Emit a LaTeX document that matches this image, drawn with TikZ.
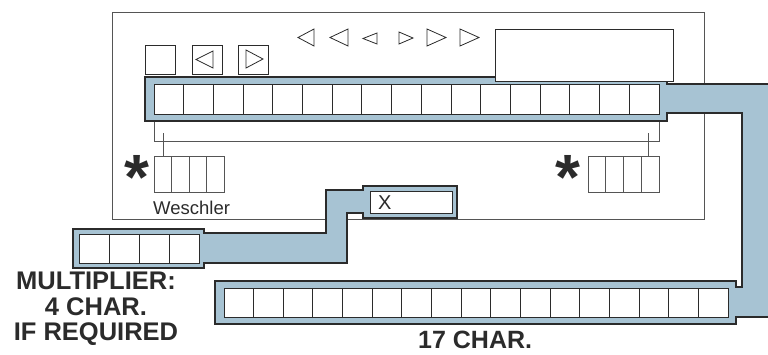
\documentclass[tikz,border=0pt]{standalone}
\usepackage{fontspec}
\setmainfont{Liberation Sans}
\usetikzlibrary{calc}
\definecolor{bandblue}{HTML}{A7C3D3}
\definecolor{ink}{HTML}{2B2B2B}
\definecolor{panelgray}{HTML}{555555}
\begin{document}
\begin{tikzpicture}[x=1pt,y=-1pt,
  panel/.style={draw=panelgray,line width=0.9pt},
  band/.style={fill=bandblue,draw=ink,line width=1.1pt,line join=miter},
  cellstrip/.style={draw=ink,fill=white,line width=0.9pt,inner sep=0pt,outer sep=0pt,anchor=north west},
  box/.style={draw=ink,fill=white,line width=0.8pt,inner sep=0pt,outer sep=0pt,anchor=north west},
  tri/.style={draw=ink,line width=0.8pt,line join=miter},
  thin/.style={draw=panelgray,line width=0.8pt},
  lbl/.style={inner sep=0pt,text=ink},
  bold/.style={lbl,font=\fontsize{25.5}{25.5}\selectfont\bfseries},
  star/.style={lbl,font=\fontsize{64}{64}\selectfont\bfseries,anchor=base}]
\useasboundingbox (0,0) rectangle (768,354);
\clip (0,0) rectangle (768,354);
% panel
\draw[panel] (112,12) rectangle (704,219);
% bracket and ticks
\coordinate (bl) at (154,121);
\coordinate (br) at (659,121);
\draw[thin] (bl) -- (154,141) -- (659,141) -- (br);
% top buttons
\node[box,minimum width=30pt,minimum height=29pt] (btnA) at (145,45) {};
\node[box,minimum width=30pt,minimum height=29pt] (btnB) at (192,45) {};
\node[box,minimum width=30pt,minimum height=29pt] (btnC) at (238,45) {};
\draw[tri] (213,51) -- (213,68) -- (196,59.5) -- cycle;
\draw[tri] (246,50) -- (246,68) -- (263,59) -- cycle;
% arrow triangles
\draw[tri] (314,29) -- (314,46) -- (298,37.5) -- cycle;
\draw[tri] (348,29) -- (348,46) -- (330,37.5) -- cycle;
\draw[tri] (377,33) -- (377,44) -- (363,38.5) -- cycle;
\draw[tri] (399,32) -- (399,44) -- (413,38) -- cycle;
\draw[tri] (427,29) -- (427,46) -- (446,37.5) -- cycle;
\draw[tri] (460,29) -- (460,46) -- (479,37.5) -- cycle;
% big blue band with loop to bottom strip
\draw[band] (145,77) -- (667,77) -- (667,84) -- (780,84) -- (780,317) -- (736,317)
  -- (736,324) -- (215,324) -- (215,281) -- (736,281) -- (736,287) -- (742,287)
  -- (742,113) -- (667,113) -- (667,121) -- (145,121) -- cycle;
% multiplier connector
\draw[band] (457,186) -- (457,218) -- (363,218) -- (363,213) -- (347,213) -- (347,263)
  -- (204,263) -- (204,268) -- (73,268) -- (73,229) -- (204,229) -- (204,233)
  -- (326,233) -- (326,190) -- (363,190) -- (363,186) -- cycle;
% display box
\node[box,minimum width=178pt,minimum height=52pt] (disp) at (495,29) {};
% top strip 17 cells
\node[cellstrip,minimum width=505pt,minimum height=30pt] (top) at (154,84) {};
\foreach \i in {1,...,16} \draw[ink,line width=0.9pt] ($(top.north west)!\i/17!(top.north east)$) -- ($(top.south west)!\i/17!(top.south east)$);
% bottom strip 17 cells
\node[cellstrip,minimum width=504pt,minimum height=29pt] (bot) at (224,288) {};
\foreach \i in {1,...,16} \draw[ink,line width=0.9pt] ($(bot.north west)!\i/17!(bot.north east)$) -- ($(bot.south west)!\i/17!(bot.south east)$);
% multiplier strip 4 cells
\node[cellstrip,minimum width=120pt,minimum height=29pt] (mult) at (79,234) {};
\foreach \i in {1,...,3} \draw[ink,line width=0.9pt] ($(mult.north west)!\i/4!(mult.north east)$) -- ($(mult.south west)!\i/4!(mult.south east)$);
% X box
\node[box,minimum width=82pt,minimum height=22pt] (xb) at (370,191) {};
\node[lbl,anchor=base west,font=\fontsize{20}{20}\selectfont] (xt) at (378,209) {X};
% Weschler boxes
\node[box,draw=panelgray,minimum width=70pt,minimum height=36pt] (wl) at (154,156) {};
\foreach \i in {1,...,3} \draw[panelgray,line width=0.8pt] ($(wl.north west)!\i/4!(wl.north east)$) -- ($(wl.south west)!\i/4!(wl.south east)$);
\node[box,draw=panelgray,minimum width=71pt,minimum height=36pt] (wr) at (588,156) {};
\foreach \i in {1,...,3} \draw[panelgray,line width=0.8pt] ($(wr.north west)!\i/4!(wr.north east)$) -- ($(wr.south west)!\i/4!(wr.south east)$);
\coordinate (tl) at (163,133);
\coordinate (tr) at (648,133);
\draw[thin] (tl) -- (tl |- wl.north);
\draw[thin] (tr) -- (tr |- wr.north);
% asterisks
\node[star] (sl) at (137,199) {*};
\node[star] (sr) at (568,199) {*};
% labels
\node[lbl,anchor=base west,font=\fontsize{18.5}{18.5}\selectfont] (wes) at (153,214) {Weschler};
\node[bold,align=center] (multlbl) at (96,309) {MULTIPLIER:\\4 CHAR.\\IF REQUIRED};
\node[bold,anchor=base west,font=\fontsize{25}{25}\selectfont\bfseries] (c17) at (418,348.5) {17 CHAR.};
\end{tikzpicture}
\end{document}
